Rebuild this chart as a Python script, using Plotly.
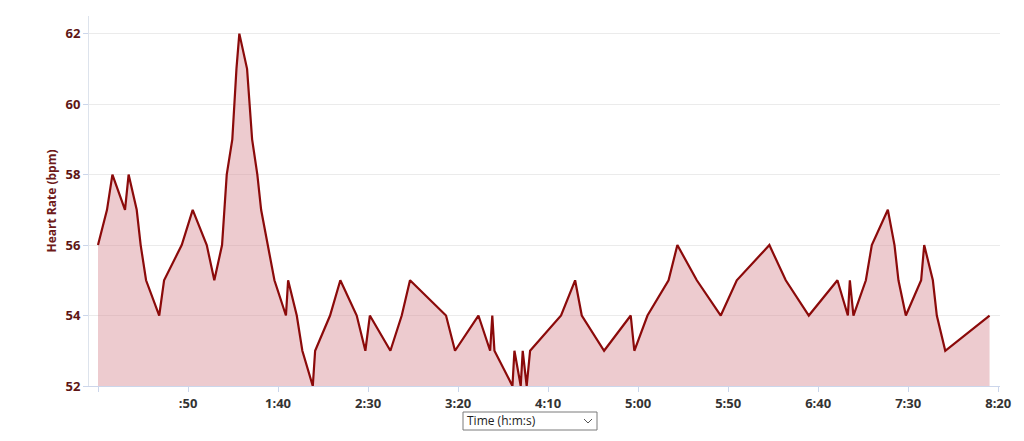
import plotly.graph_objects as go

# elapsed time in seconds
time_s = [0, 5, 8, 15, 17, 21.5, 23.7, 26.7, 34, 36.7, 46.5, 52.6, 60.4, 64.6, 68.9,
          70.2, 71.5, 74.6, 76.9, 78.5, 82.8, 85.6, 88.5, 90.6, 94.3, 98, 104.4, 105.6,
          110.4, 113.5, 119.3, 120.6, 128.9, 134.6, 143.7, 148.5, 151, 162.4, 168.7,
          173.3, 193.3, 198.3, 211.3, 217.8, 219, 220.2, 230.2, 231.3, 234.8, 235.9,
          238.1, 240, 257.2, 265, 268.7, 281.1, 295.9, 297.9, 305.2, 316.9, 321.8,
          332.6, 345.9, 354.8, 372.9, 382, 394.8, 410.7, 416.5, 417.6, 419.6, 426.5,
          429.8, 438.7, 442.4, 444.6, 448.7, 457.2, 458.9, 463.7, 465.9, 470.6, 495.2]

heart_rate = [56, 57, 58, 57, 58, 57, 56, 55, 54, 55, 56, 57, 56, 55, 56,
              57, 58, 59, 61, 62, 61, 59, 58, 57, 56, 55, 54, 55,
              54, 53, 52, 53, 54, 55, 54, 53, 54, 53, 54,
              55, 54, 53, 54, 53, 54, 53, 52, 53, 52, 53,
              52, 53, 54, 55, 54, 53, 54, 53, 54, 55, 56,
              55, 54, 55, 56, 55, 54, 55, 54, 55, 54, 55,
              56, 57, 56, 55, 54, 55, 56, 55, 54, 53, 54]

x_tick_vals = [0, 50, 100, 150, 200, 250, 300, 350, 400, 450, 500]
x_tick_text = ["", ":50", "1:40", "2:30", "3:20", "4:10", "5:00", "5:50", "6:40", "7:30", "8:20"]
y_tick_vals = [52, 54, 56, 58, 60, 62]

# page offset of the figure (default body margin)
OFF = 8
W, H = 1024 - OFF, 441 - OFF
# plot area in page pixels: x 89..1000, y 16..386
L, T = 89 - OFF, 16 - OFF
pw, ph = 911, 370
R, B = W - L - pw, H - T - ph


def px(x):
    return (x - OFF - L) / pw


def py(y):
    return (T + ph - (y - OFF)) / ph


fig = go.Figure()
fig.add_trace(go.Scatter(
    x=time_s, y=heart_rate, mode="lines",
    line=dict(color="#8b0a0a", width=2.2),
    fill="tozeroy", fillcolor="rgba(215,140,148,0.45)",
    hoverinfo="skip", showlegend=False,
))

fig.update_layout(
    width=W, height=H,
    margin=dict(l=L, r=R, t=T, b=B),
    paper_bgcolor="white", plot_bgcolor="white",
    font=dict(family="Open Sans, sans-serif"),
    xaxis=dict(
        range=[-5, 501], tickvals=x_tick_vals, ticktext=x_tick_text,
        showgrid=False, zeroline=False,
        showline=True, linecolor="#ccd6eb", linewidth=1,
        ticks="outside", ticklen=5, tickcolor="#ccd6eb",
        tickfont=dict(size=13, color="#333333", weight="bold"),
    ),
    yaxis=dict(
        range=[52, 62.5], tickvals=y_tick_vals,
        showgrid=True, gridcolor="#ebebeb", gridwidth=1, zeroline=False,
        showline=True, linecolor="#dde3ec", linewidth=1,
        ticks="outside", ticklen=5, tickcolor="#ccd6eb",
        tickfont=dict(size=13, color="#5e1616", weight="bold"),
        title=dict(text="Heart Rate (bpm)", standoff=6,
                   font=dict(size=12, color="#6e1a1a", weight="bold")),
    ),
)

# "Time (h:m:s)" selector box below the axis
fig.add_shape(type="rect", xref="paper", yref="paper",
              x0=px(463), x1=px(597), y0=py(430), y1=py(412),
              line=dict(color="#7a7a7a", width=1), fillcolor="white")
fig.add_shape(type="path", xref="paper", yref="paper",
              path=f"M {px(584)} {py(419)} L {px(588)} {py(423)} L {px(592)} {py(419)}",
              line=dict(color="#555555", width=1))
fig.add_annotation(xref="paper", yref="paper", x=px(465), y=py(421),
                   xanchor="left", yanchor="middle", showarrow=False,
                   text="Time (h:m:s)", font=dict(size=12, color="#222222"))

fig.write_html("out.html")
